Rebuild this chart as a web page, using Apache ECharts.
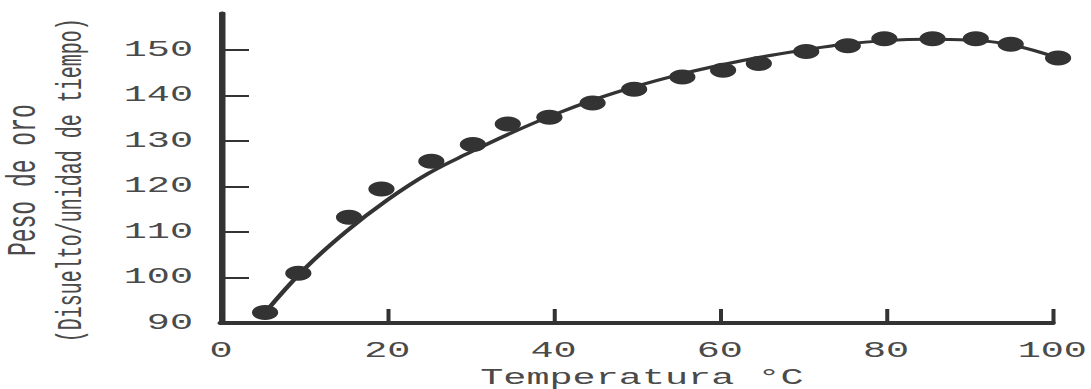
<!DOCTYPE html>
<html>
<head>
<meta charset="utf-8">
<script src="https://cdn.jsdelivr.net/npm/echarts@6/dist/echarts.min.js"></script>
<style>
  html, body { margin: 0; padding: 0; background: #fff; overflow: hidden; }
  #wrap { width: 1091px; height: 389px; overflow: hidden; }
  #chart { width: 623.43px; height: 389px; transform: scaleX(1.75); transform-origin: 0 0; }
</style>
</head>
<body>
<div id="wrap"><div id="chart"></div></div>
<script>
const xTicks = [0, 20, 40, 60, 80, 100];
const yTicks = [90, 100, 110, 120, 130, 140, 150];
const xName = 'Temperatura °C';
const yNameLine1 = 'Peso de oro';
const yNameLine2 = '(Disuelto/unidad de tiempo)';

// measured points
const pointX = [5.3, 9.3, 15.4, 19.3, 25.3, 30.3, 34.5, 39.5, 44.7, 49.7, 55.5, 60.4, 64.7, 70.4, 75.4, 79.8, 85.6, 90.8, 95.0, 100.7];
const pointY = [92.3, 100.9, 113.2, 119.4, 125.5, 129.2, 133.7, 135.2, 138.3, 141.3, 144.0, 145.5, 147.0, 149.6, 150.9, 152.4, 152.4, 152.4, 151.2, 148.2];

// fitted curve
const curveX = [5.3, 10, 15, 20, 25, 30, 35, 40, 45, 50, 55, 60, 65, 70, 75, 80, 85, 90, 95, 100.7];
const curveY = [92.3, 101.8, 110.0, 117.0, 122.9, 127.5, 131.8, 135.7, 139.1, 142.0, 144.5, 146.6, 148.4, 149.9, 151.2, 152.0, 152.3, 152.1, 151.1, 148.2];

const FONT = '"Liberation Mono", "Courier New", monospace';
const INK = '#333333';
const TEXT = '#4a4a4a';

const chart = echarts.init(document.getElementById('chart'), null, { renderer: 'svg' });
chart.setOption({
  animation: false,
  backgroundColor: '#ffffff',
  grid: { left: 126.3, right: 21.7, top: 13.3, bottom: 66, containLabel: false, outerBoundsMode: 'none' },
  xAxis: {
    type: 'value',
    min: 0, max: 100, interval: 20,
    name: xName,
    nameLocation: 'middle',
    nameGap: 44,
    nameTextStyle: { fontFamily: FONT, fontSize: 22, color: TEXT, padding: [0, 0, 0, 6] },
    axisLine: { show: true, lineStyle: { color: INK, width: 4 } },
    axisTick: { show: true, inside: true, length: 14, customValues: xTicks, lineStyle: { color: INK, width: 2.3 } },
    axisLabel: { show: true, margin: 17, customValues: xTicks, fontFamily: FONT, fontSize: 22, color: TEXT },
    splitLine: { show: false }
  },
  yAxis: {
    type: 'value',
    min: 90, max: 158, interval: 10,
    name: '{a|' + yNameLine1 + '}\n{b|' + yNameLine2 + '}',
    nameLocation: 'middle',
    nameRotate: 90,
    nameGap: 72,
    nameTextStyle: {
      fontFamily: FONT, fontSize: 22, color: TEXT, lineHeight: 27, padding: [0, 24, 0, 0],
      rich: {
        a: { fontFamily: FONT, fontSize: 23, color: TEXT, lineHeight: 27 },
        b: { fontFamily: FONT, fontSize: 20, color: TEXT, lineHeight: 27 }
      }
    },
    axisLine: { show: true, lineStyle: { color: INK, width: 3.7 } },
    axisTick: { show: true, inside: true, length: 16, customValues: yTicks.slice(1), lineStyle: { color: INK, width: 2 } },
    axisLabel: { show: true, margin: 16, customValues: yTicks, fontFamily: FONT, fontSize: 22, color: TEXT },
    splitLine: { show: false }
  },
  series: [
    {
      type: 'line',
      data: curveX.map((x, i) => [x, curveY[i]]),
      smooth: 0.4,
      showSymbol: false,
      symbol: 'none',
      clip: false,
      lineStyle: { color: INK, width: 3 },
      z: 2
    },
    {
      type: 'scatter',
      data: pointX.map((x, i) => [x, pointY[i]]),
      symbol: 'circle',
      symbolSize: 15,
      clip: false,
      itemStyle: { color: INK, opacity: 1 },
      z: 3
    }
  ]
});
</script>
</body>
</html>
